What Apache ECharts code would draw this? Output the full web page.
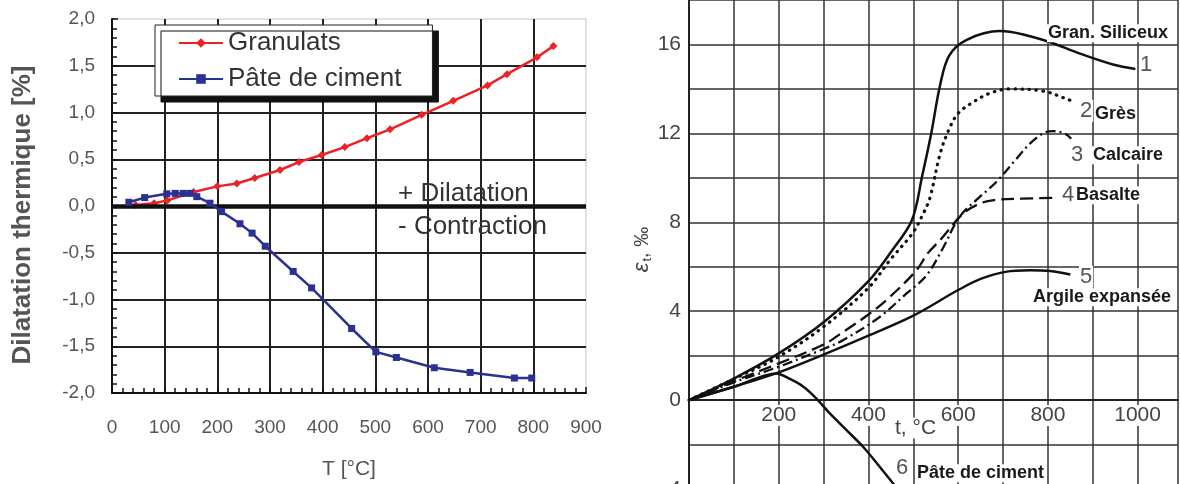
<!DOCTYPE html>
<html><head><meta charset="utf-8">
<script src="https://cdn.jsdelivr.net/npm/echarts@6/dist/echarts.min.js"></script>
<style>html,body{margin:0;padding:0;background:#fff}#c{width:1180px;height:484px}</style>
</head><body><div id="c"></div>
<script>
// ---- Left chart data: T [°C] / dilatation [%] ----
const granT = [45, 80, 105, 155, 200, 237, 271, 319, 355, 398, 442, 484, 528, 588, 648, 713, 750, 807, 838];
const granV = [0.01, 0.03, 0.06, 0.15, 0.21, 0.24, 0.30, 0.385, 0.47, 0.545, 0.63, 0.725, 0.82, 0.975, 1.125, 1.29, 1.41, 1.59, 1.71];
const pateT = [32, 62, 104, 120, 135, 148, 161, 186, 208, 243, 266, 291, 344, 379, 455, 501, 540, 612, 680, 764, 797];
const pateV = [0.04, 0.09, 0.13, 0.135, 0.135, 0.135, 0.10, 0.03, -0.06, -0.19, -0.29, -0.43, -0.70, -0.876, -1.31, -1.56, -1.62, -1.73, -1.78, -1.84, -1.84];
const leftXTicks = [0, 100, 200, 300, 400, 500, 600, 700, 800, 900];
const leftYTicks = [-2, -1.5, -1, -0.5, 0, 0.5, 1, 1.5, 2];

// ---- Right chart data: t [°C] / epsilon_t [‰] ----
const t1 = [0, 100, 200, 300, 400, 455, 497, 520, 540, 560, 580, 618, 693, 745, 805, 870, 945, 995];
const e1 = [0, 0.97, 2.1, 3.5, 5.35, 6.8, 8.1, 10.1, 12.0, 14.2, 15.5, 16.2, 16.6, 16.45, 16.1, 15.6, 15.1, 14.9];
const t2 = [0, 100, 200, 300, 400, 448, 498, 520, 537, 560, 580, 600, 633, 670, 715, 790, 835, 860];
const e2 = [0, 0.95, 1.95, 3.3, 5.05, 6.3, 7.5, 8.3, 9.1, 11.1, 12.2, 12.9, 13.4, 13.8, 14.0, 13.9, 13.6, 13.4];
const t3 = [0, 100, 200, 300, 344, 425, 485, 529, 565, 603, 648, 685, 730, 760, 789, 811, 837, 852];
const e3 = [0, 0.8, 1.5, 2.3, 2.7, 3.74, 4.8, 5.6, 6.8, 8.24, 9.14, 9.81, 10.86, 11.54, 12.0, 12.1, 12.0, 11.76];
const t4 = [0, 100, 200, 300, 344, 400, 444, 507, 532, 560, 611, 648, 680, 740, 812];
const e4 = [0, 0.85, 1.65, 2.5, 3.07, 3.85, 4.57, 5.84, 6.6, 7.2, 8.39, 8.84, 9.0, 9.06, 9.1];
const t5 = [0, 100, 200, 300, 400, 500, 600, 650, 705, 760, 805, 850];
const e5 = [0, 0.6, 1.25, 2.05, 2.9, 3.8, 4.95, 5.45, 5.77, 5.84, 5.81, 5.65];
const t6 = [0, 100, 195, 225, 255, 283, 314, 350, 388, 421, 455, 481];
const e6 = [0, 0.6, 1.2, 0.95, 0.6, 0.09, -0.6, -1.33, -2.1, -2.9, -3.75, -4.5];
const rightXLabels = [200, 400, 600, 800, 1000];
const rightYLabels = [-4, 0, 4, 8, 12, 16];

const zip = (a, b) => a.map((v, i) => [v, b[i]]);
const FF = 'Liberation Sans, Arial, sans-serif';

const chart = echarts.init(document.getElementById('c'), null, {renderer: 'canvas'});

function rightLine(name, t, e, style, smooth) {
  return {
    name: name, type: 'line', xAxisIndex: 1, yAxisIndex: 1,
    data: zip(t, e), showSymbol: false, symbol: 'none', smooth: smooth == null ? 0.35 : smooth,
    lineStyle: Object.assign({color: '#111', width: 2.3}, style),
    silent: true, z: 3
  };
}

const label = (text, x, y, size, bold, color) => ({
  type: 'text', left: x, top: y - size * 0.6, z: 50,
  style: {text: text, font: (bold ? 'bold ' : '') + size + 'px ' + FF, fill: color,
          backgroundColor: '#fff', padding: [0, 1]}
});

chart.setOption({
  animation: false,
  backgroundColor: '#fff',
  textStyle: {fontFamily: FF},
  grid: [
    {left: 112, top: 19, width: 474, height: 374, show: true, borderColor: '#c4c4c4', borderWidth: 1,
     backgroundColor: 'transparent', containLabel: false, outerBoundsMode: 'none'},
    {left: 689, top: 0, width: 489, height: 489, show: false, containLabel: false, outerBoundsMode: 'none'}
  ],
  legend: {
    data: ['Granulats', 'Pâte de ciment'],
    orient: 'vertical', left: 155, top: 25,
    padding: [5, 31, 4, 23], itemGap: 10, itemWidth: 44, itemHeight: 12,
    backgroundColor: '#fff', borderColor: '#222', borderWidth: 1,
    shadowColor: '#111', shadowOffsetX: 6, shadowOffsetY: 6, shadowBlur: 0.5,
    textStyle: {fontSize: 26, color: '#333', fontFamily: FF},
    selectedMode: false
  },
  xAxis: [
    {gridIndex: 0, type: 'value', min: 0, max: 900, interval: 100,
     axisLine: {onZero: false, lineStyle: {color: '#111', width: 2}},
     axisTick: {show: true, inside: true, length: 6, lineStyle: {color: '#111', width: 1.5}},
     minorTick: {show: true, splitNumber: 5, length: 5, lineStyle: {color: '#111', width: 1.5}},
     axisLabel: {fontSize: 19, color: '#555', margin: 25, fontFamily: FF,
                 formatter: v => leftXTicks.includes(v) ? String(v) : ''},
     splitLine: {show: true, showMinLine: false, showMaxLine: false, lineStyle: {color: '#222', width: 2}},
     name: 'T [°C]', nameLocation: 'middle', nameGap: 66,
     nameTextStyle: {fontSize: 21, color: '#555', fontFamily: FF}},
    {gridIndex: 1, type: 'value', min: 0, max: 1090, interval: 100, position: 'bottom', offset: -89,
     axisLine: {onZero: false, lineStyle: {color: '#222', width: 2}},
     axisTick: {show: false},
     axisLabel: {show: true, fontSize: 21, color: '#444', margin: 5, fontFamily: FF,
                 backgroundColor: '#fff', padding: [0, 2],
                 formatter: v => rightXLabels.includes(v) ? String(v) : ''},
     splitLine: {show: true, showMinLine: false, lineStyle: {color: '#333', width: 1.5}}}
  ],
  yAxis: [
    {gridIndex: 0, type: 'value', min: -2, max: 2, interval: 0.5,
     axisLine: {onZero: false, lineStyle: {color: '#111', width: 2}},
     axisTick: {show: true, inside: true, length: 6, lineStyle: {color: '#111', width: 1.5}},
     minorTick: {show: true, splitNumber: 5, length: 5, lineStyle: {color: '#111', width: 1.5}},
     axisLabel: {fontSize: 19, color: '#555', margin: 17, fontFamily: FF,
                 formatter: v => leftYTicks.includes(v) ? v.toFixed(1).replace('.', ',') : ''},
     splitLine: {show: true, showMinLine: false, showMaxLine: false, lineStyle: {color: '#222', width: 2}},
     name: 'Dilatation thermique [%]', nameLocation: 'middle', nameGap: 76,
     nameTextStyle: {fontSize: 26, fontWeight: 'bold', color: '#555', fontFamily: FF, padding: [0, 18, 0, 0]}},
    {gridIndex: 1, type: 'value', min: -4, max: 18, interval: 2,
     axisLine: {onZero: false, lineStyle: {color: '#222', width: 2}},
     axisTick: {show: false},
     axisLabel: {fontSize: 21, color: '#444', margin: 8, fontFamily: FF,
                 formatter: v => rightYLabels.includes(v) ? String(v) : ''},
     splitLine: {show: true, lineStyle: {color: '#333', width: 1.5}},
     name: '{a|ε}{b|t}{c|, ‰}', nameLocation: 'middle', nameGap: 27, nameRotate: 90,
     nameTextStyle: {color: '#444', padding: [0, 10, 0, 0], rich: {
       a: {fontSize: 22, color: '#444', fontFamily: FF, fontStyle: 'italic'},
       b: {fontSize: 13, color: '#444', fontFamily: FF, verticalAlign: 'bottom', padding: [10, 0, 0, 1]},
       c: {fontSize: 20, color: '#444', fontFamily: FF}}}}
  ],
  series: [
    {name: 'Granulats', type: 'line', xAxisIndex: 0, yAxisIndex: 0, data: zip(granT, granV),
     symbol: 'diamond', symbolSize: 8, color: '#ec2227',
     lineStyle: {color: '#ec2227', width: 2.5}, itemStyle: {color: '#ec2227'}, z: 4,
     markLine: {silent: true, symbol: 'none', label: {show: false},
                lineStyle: {color: '#111', width: 4.5, type: 'solid'}, data: [{yAxis: 0}]}},
    {name: 'Pâte de ciment', type: 'line', xAxisIndex: 0, yAxisIndex: 0, data: zip(pateT, pateV),
     symbol: 'rect', symbolSize: 7, color: '#2b3192',
     lineStyle: {color: '#2b3192', width: 2.5}, itemStyle: {color: '#2b3192'}, z: 5},
    rightLine('Gran. Siliceux', t1, e1, {width: 2.5}),
    rightLine('Grès', t2, e2, {type: [0.5, 6.5], cap: 'round', width: 3.2}),
    rightLine('Calcaire', t3, e3, {type: [10, 4, 2, 4], width: 2.3}),
    rightLine('Basalte', t4, e4, {type: [13, 6], width: 2.3}),
    rightLine('Argile expansée', t5, e5, {width: 2.4}),
    rightLine('Pâte de ciment (2)', t6, e6, {width: 2.5}, 0.3)
  ],
  graphic: [
    {type: 'text', left: 398, top: 181, z: 50, silent: true,
     style: {text: '+ Dilatation', font: '26px ' + FF, fill: '#333'}},
    {type: 'text', left: 398, top: 214, z: 50, silent: true,
     style: {text: '- Contraction', font: '26px ' + FF, fill: '#333'}},
    label('Gran. Siliceux', 1047, 35, 18, true, '#1a1a1a'),
    label('1', 1139, 67, 22, false, '#555'),
    label('2', 1079, 113, 22, false, '#555'),
    label('Grès', 1094, 116, 18, true, '#1a1a1a'),
    label('3', 1070, 157, 22, false, '#555'),
    label('Calcaire', 1092, 157, 18, true, '#1a1a1a'),
    label('4', 1061, 197, 22, false, '#555'),
    label('Basalte', 1075, 197, 18, true, '#1a1a1a'),
    label('5', 1079, 279, 22, false, '#555'),
    label('Argile expansée', 1032, 299, 18, true, '#1a1a1a'),
    label('6', 895, 470, 22, false, '#555'),
    label('Pâte de ciment', 916, 475, 18, true, '#1a1a1a'),
    label('t, °C', 894, 430, 21, false, '#444')
  ]
});
</script></body></html>
